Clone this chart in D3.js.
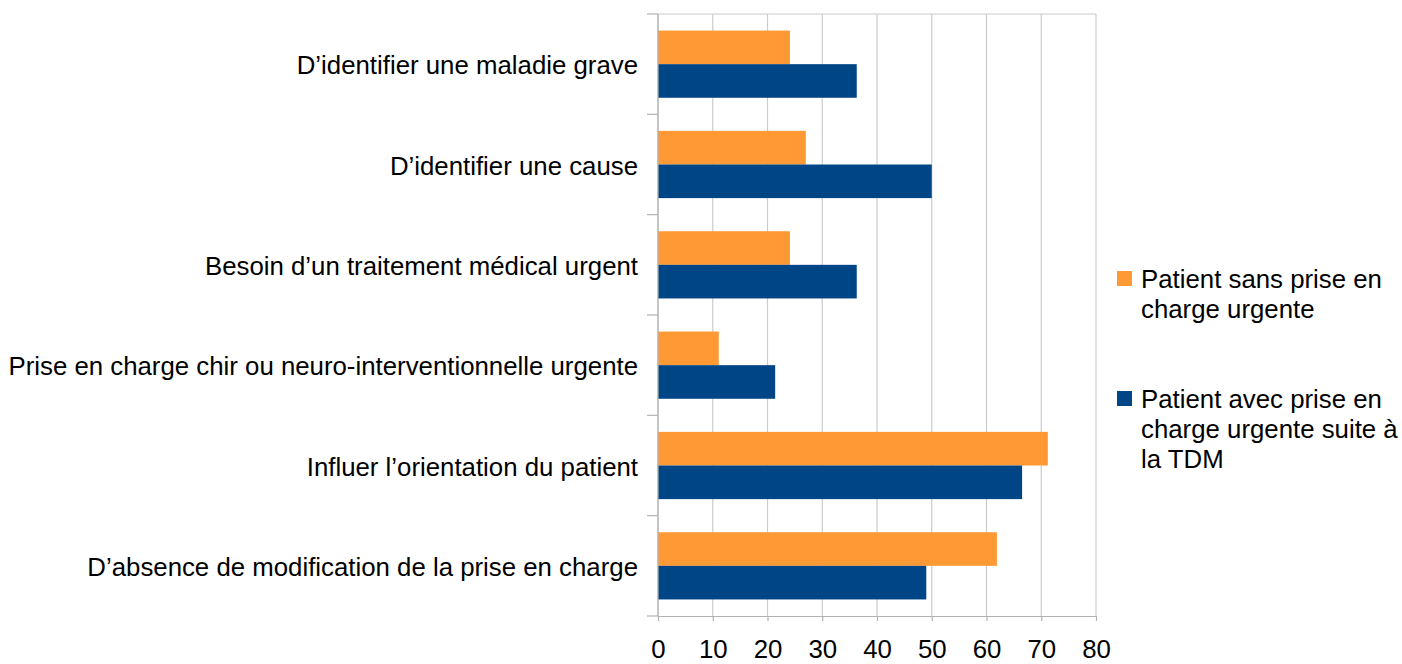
<!DOCTYPE html>
<html><head><meta charset="utf-8">
<script src="https://cdn.jsdelivr.net/npm/d3@7"></script>
<style>body{margin:0;background:#fff;} svg{display:block;font-family:"Liberation Sans",Arial,sans-serif;}</style>
</head><body>
<svg id="c" width="1402" height="664"></svg>
<script>
const categories = [
  "D’identifier une maladie grave",
  "D’identifier une cause",
  "Besoin d’un traitement médical urgent",
  "Prise en charge chir ou neuro-interventionnelle urgente",
  "Influer l’orientation du patient",
  "D’absence de modification de la prise en charge"
];
const seriesNames = ["Patient sans prise en charge urgente", "Patient avec prise en charge urgente suite à la TDM"];
const sansValues = [24.1, 27.0, 24.1, 11.1, 71.2, 61.9];
const avecValues = [36.3, 50.0, 36.3, 21.4, 66.5, 49.0];
const xTicks = [0, 10, 20, 30, 40, 50, 60, 70, 80];
const colors = ["#ff9933", "#004586"];
const legendLines = [["Patient sans prise en", "charge urgente"], ["Patient avec prise en", "charge urgente suite à", "la TDM"]];

(function () {
const svg = d3.select("#c");
const FS = 25.8;
const mLeft = 658, mRight = 1096, mTop = 14, mBottom = 616;
const x = d3.scaleLinear().domain([0, 80]).range([mLeft, mRight]);
const y = d3.scaleBand().domain(categories).range([mTop, mBottom]).paddingInner(0.33).paddingOuter(0.165);
const ySub = d3.scaleBand().domain([0, 1]).range([0, y.bandwidth()]);
const grid = "#cccccc";

svg.append("g").selectAll("line").data(xTicks).join("line")
  .attr("x1", d => x(d)).attr("x2", d => x(d)).attr("y1", mTop).attr("y2", mBottom)
  .attr("stroke", grid).attr("stroke-width", 1.2);
svg.append("line").attr("x1", mLeft).attr("x2", mRight).attr("y1", mTop).attr("y2", mTop).attr("stroke", grid).attr("stroke-width", 1.2);

const data = categories.map((c, i) => ({c, vals: [sansValues[i], avecValues[i]]}));
const g = svg.append("g").selectAll("g").data(data).join("g").attr("transform", d => `translate(0,${y(d.c)})`);
g.selectAll("rect").data(d => d.vals.map((v, k) => ({v, k}))).join("rect")
  .attr("x", x(0)).attr("y", d => ySub(d.k)).attr("height", ySub.bandwidth())
  .attr("width", d => x(d.v) - x(0)).attr("fill", d => colors[d.k]);

const xAxis = d3.axisBottom(x).tickValues(xTicks).tickSize(5).tickSizeOuter(0);
const ax = svg.append("g").attr("transform", `translate(0,${mBottom})`).call(xAxis);
ax.select(".domain").attr("stroke", "#b3b3b3").attr("stroke-width", 1.2);
ax.selectAll(".tick line").attr("stroke", "#b3b3b3").attr("stroke-width", 1.2);
ax.selectAll("text").attr("font-size", FS).attr("fill", "#000").attr("y", 42).attr("dy", 0)
  .attr("font-family", "Liberation Sans, Arial, sans-serif");

const boundaries = d3.range(categories.length + 1).map(i => mTop + i * (mBottom - mTop) / categories.length);
svg.append("line").attr("x1", mLeft).attr("x2", mLeft).attr("y1", mTop).attr("y2", mBottom).attr("stroke", "#b3b3b3").attr("stroke-width", 1.2);
svg.append("g").selectAll("line").data(boundaries).join("line")
  .attr("x1", mLeft - 11).attr("x2", mLeft).attr("y1", d => d).attr("y2", d => d)
  .attr("stroke", "#b3b3b3").attr("stroke-width", 1.2);
svg.append("g").selectAll("text").data(categories).join("text")
  .attr("x", mLeft - 20).attr("y", d => y(d) + y.bandwidth() / 2 + 10)
  .attr("text-anchor", "end").attr("font-size", FS).attr("fill", "#000")
  .text(d => d);

const legBase = [288, 408];
const lg = svg.append("g").selectAll("g").data(seriesNames).join("g");
lg.append("rect").attr("x", 1117).attr("y", (d, i) => legBase[i] - 17).attr("width", 15).attr("height", 15).attr("fill", (d, i) => colors[i]);
lg.each(function(d, i) {
  d3.select(this).selectAll("text").data(legendLines[i]).join("text")
    .attr("x", 1141).attr("y", (t, j) => legBase[i] + j * 30)
    .attr("font-size", FS).attr("fill", "#000").text(t => t);
});
})();
</script>
</body></html>
